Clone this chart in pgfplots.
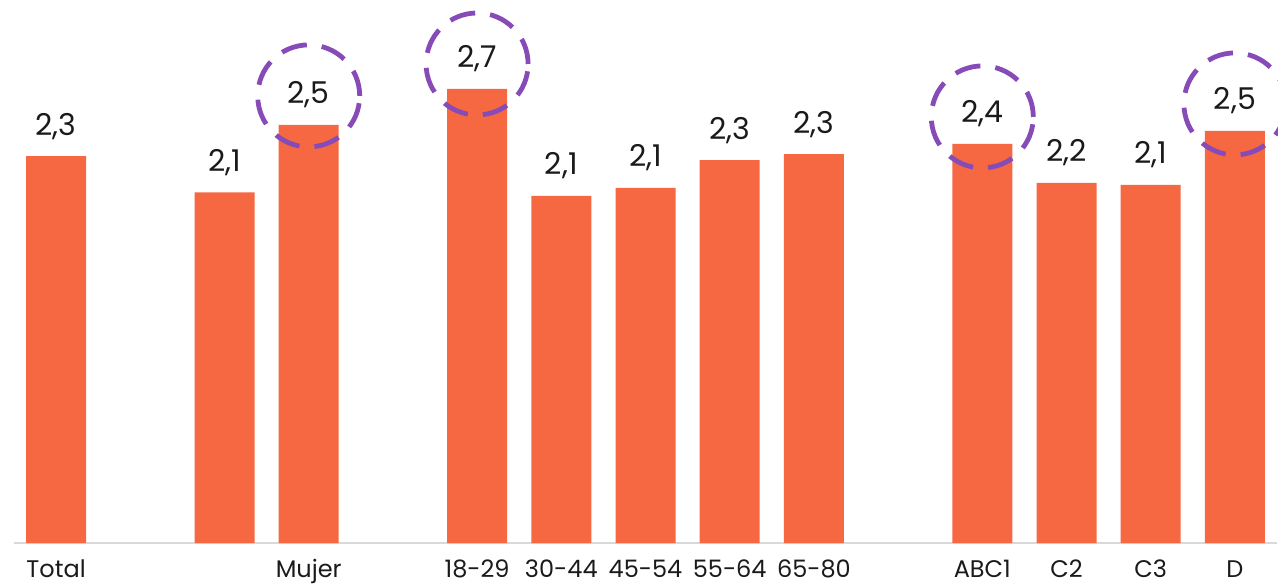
\documentclass[border=0pt]{standalone}
\usepackage{pgfplots}
\usepackage{pgfplotstable}
\usepackage{fontspec}
\setmainfont{Poppins}
\pgfplotsset{compat=1.18}
\definecolor{barorange}{RGB}{245,104,65}
\definecolor{circpurple}{RGB}{135,75,183}
\definecolor{axisgray}{RGB}{217,217,217}
\definecolor{txt}{RGB}{26,26,26}
\pgfplotstableread{
x y label
0 2.317 {2,3}
2 2.100 {2,1}
3 2.503 {2,5}
5 2.719 {2,7}
6 2.078 {2,1}
7 2.126 {2,1}
8 2.293 {2,3}
9 2.329 {2,3}
11 2.389 {2,4}
12 2.156 {2,2}
13 2.144 {2,1}
14 2.467 {2,5}
}\bars
\pgfplotstableread{
x y
3 2.677
5 2.868
11 2.551
14 2.629
}\circs
\begin{document}
\begin{tikzpicture}
\useasboundingbox[clip] (-7pt,-21.5pt) rectangle (632pt,271.5pt);
\begin{axis}[
  scale only axis,
  width=631.5pt, height=271.5pt,
  xmin=-0.5, xmax=14.5, ymin=0, ymax=3.251,
  axis x line=bottom, axis y line=none,
  x axis line style={-, draw=axisgray, line width=1pt},
  xtick={0,3,5,6,7,8,9,11,12,13,14},
  xticklabels={Total,Mujer,18-29,30-44,45-54,55-64,65-80,ABC1,C2,C3,D},
  major tick length=0pt,
  xticklabel style={anchor=base, yshift=-17pt, font=\fontsize{12}{14}\selectfont, text=txt},
  ytick=\empty,
  clip=false,
]
\addplot[ybar, bar width=30pt, fill=barorange, draw=none,
  nodes near coords, point meta=explicit symbolic,
  every node near coord/.append style={anchor=base, yshift=10.5pt, font=\fontsize{15}{17}\selectfont, text=txt}]
  table[x=x, y=y, meta=label]{\bars};
\addplot[only marks, mark=o, mark size=25.5pt,
  mark options={draw=circpurple, line width=2.4pt, dash pattern=on 13pt off 7.5pt}]
  table[x=x, y=y]{\circs};
\end{axis}
\end{tikzpicture}
\end{document}
